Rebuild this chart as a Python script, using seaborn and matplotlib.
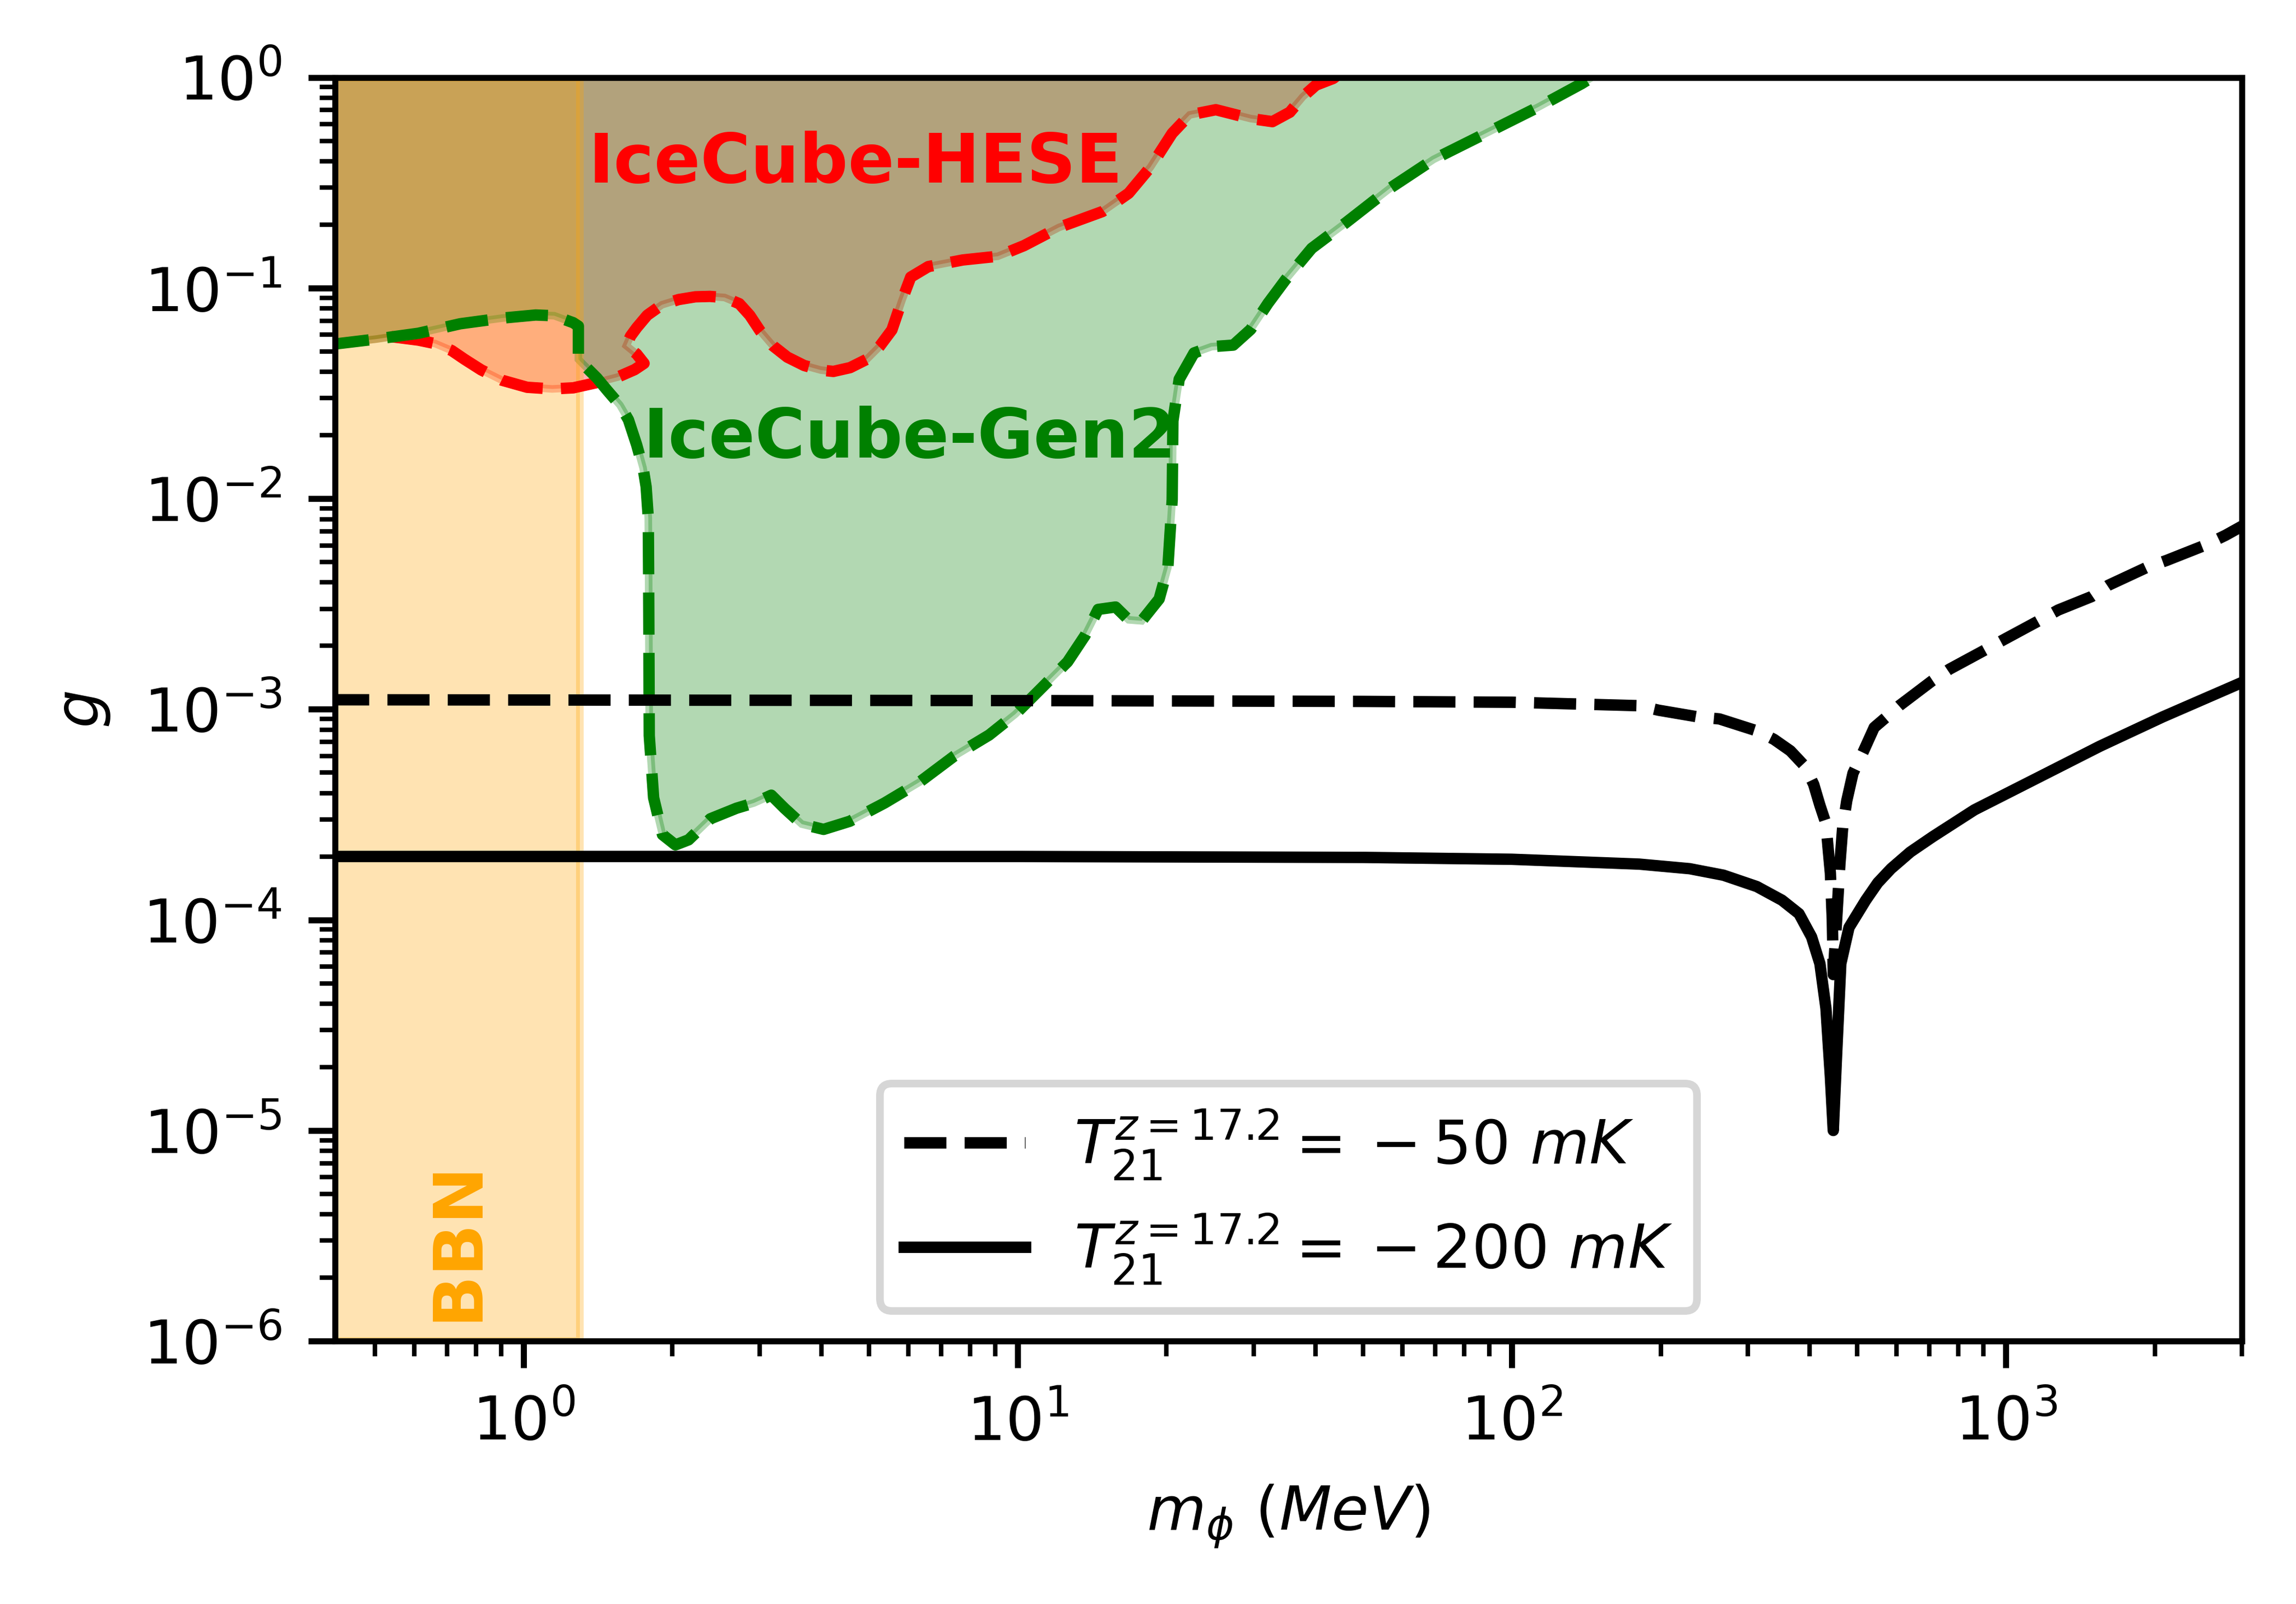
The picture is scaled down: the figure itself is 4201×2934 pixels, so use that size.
import matplotlib
matplotlib.use("Agg")
import matplotlib.pyplot as plt
import seaborn as sns

# 21-cm bound, T21 = -50 mK (dashed)
m_50mk = [0.4, 10, 50, 100, 181, 198, 238, 263, 313, 339, 366, 392, 408, 420,
          432, 436, 441, 445, 447, 454, 461, 467, 476, 490, 515, 541, 573, 608,
          710, 768, 898, 989, 1157, 1275, 1490, 1611, 1920, 2117, 2522, 2780, 3000]
g_50mk = [1.11e-3, 1.10e-3, 1.09e-3, 1.08e-3, 1.04e-3, 9.9e-4, 9.2e-4, 9.0e-4,
          7.9e-4, 7.2e-4, 6.35e-4, 5.35e-4, 4.4e-4, 3.5e-4, 2.87e-4, 2.24e-4,
          1.67e-4, 1.0e-4, 5.5e-5, 1.0e-4, 1.84e-4, 2.74e-4, 3.68e-4, 4.97e-4,
          6.35e-4, 8.2e-4, 9.2e-4, 1.04e-3, 1.37e-3, 1.55e-3, 1.89e-3, 2.14e-3,
          2.61e-3, 2.96e-3, 3.43e-3, 3.88e-3, 4.7e-3, 5.1e-3, 6.0e-3, 6.7e-3, 7.4e-3]

# 21-cm bound, T21 = -200 mK (solid)
m_200mk = [0.4, 10, 50, 100, 181, 229, 268, 313, 352, 381, 404, 420, 432, 441,
           447, 454, 463, 481, 520, 550, 585, 640, 710, 863, 1157, 1549, 2075, 3000]
g_200mk = [2.0e-4, 2.0e-4, 1.98e-4, 1.94e-4, 1.84e-4, 1.75e-4, 1.63e-4, 1.44e-4,
           1.24e-4, 1.07e-4, 8.3e-5, 6.2e-5, 3.8e-5, 1.8e-5, 1.0e-5, 2.3e-5,
           6.2e-5, 9.2e-5, 1.24e-4, 1.50e-4, 1.75e-4, 2.10e-4, 2.48e-4, 3.33e-4,
           4.72e-4, 6.68e-4, 9.2e-4, 1.34e-3]

# IceCube-HESE contour (red)
m_hese = [0.539, 0.612, 0.662, 0.715, 0.759, 0.820, 0.904, 1.016, 1.142, 1.26,
          1.40, 1.55, 1.677, 1.752, 1.693, 1.613, 1.645, 1.693, 1.778, 1.904,
          2.058, 2.225, 2.382, 2.550, 2.731, 2.867, 3.009, 3.191, 3.416, 3.694,
          3.993, 4.233, 4.576, 4.947, 5.246, 5.561, 5.83, 6.07, 6.59, 7.74,
          9.11, 10.29, 12.11, 14.84, 16.76, 18.55, 20.53, 22.27, 25.16, 29.59,
          32.75, 35.52, 37.76, 40.12, 43.5, 46.0]
g_hese = [0.0588, 0.0566, 0.0545, 0.0505, 0.0459, 0.0409, 0.0365, 0.0338, 0.0332,
          0.0336, 0.0355, 0.0378, 0.0410, 0.0439, 0.0486, 0.0533, 0.0591, 0.0648,
          0.0743, 0.0833, 0.0882, 0.0909, 0.0913, 0.0902, 0.0843, 0.0743, 0.0626,
          0.0533, 0.0470, 0.0429, 0.0408, 0.0402, 0.0419, 0.0459, 0.0527, 0.0633,
          0.0877, 0.1127, 0.1265, 0.136, 0.1416, 0.159, 0.194, 0.231, 0.282,
          0.375, 0.543, 0.664, 0.703, 0.638, 0.617, 0.684, 0.811, 0.92, 0.99, 1.1]

# IceCube-Gen2 contour (green)
m_gen2 = [0.40, 0.504, 0.612, 0.744, 0.904, 1.057, 1.153, 1.259, 1.29, 1.29,
          1.314, 1.407, 1.477, 1.566, 1.629, 1.693, 1.744, 1.769, 1.787, 1.79,
          1.795, 1.832, 1.909, 2.028, 2.156, 2.386, 2.695, 2.923, 3.170, 3.370,
          3.654, 4.045, 4.570, 5.375, 6.324, 7.438, 8.750, 9.883, 11.16, 12.61,
          13.68, 14.54, 15.77, 16.76, 17.81, 19.32, 20.12, 20.53, 20.6, 21.21,
          22.73, 24.66, 27.29, 29.59, 32.09, 34.81, 39.33, 46.27, 56.66, 69.42,
          88.6, 113.0, 138.5, 150.0]
g_gen2 = [0.0537, 0.0573, 0.0610, 0.0677, 0.0720, 0.0745, 0.0739, 0.0685, 0.066,
          0.0459, 0.0439, 0.0374, 0.0326, 0.0278, 0.0237, 0.0180, 0.0140, 0.0114,
          0.0081, 0.0042, 7.5e-4, 3.8e-4, 2.54e-4, 2.27e-4, 2.40e-4, 3.02e-4,
          3.39e-4, 3.59e-4, 3.91e-4, 3.39e-4, 2.85e-4, 2.69e-4, 2.94e-4, 3.59e-4,
          4.51e-4, 6.0e-4, 7.55e-4, 9.48e-4, 1.26e-3, 1.68e-3, 2.24e-3, 2.98e-3,
          3.06e-3, 2.66e-3, 2.63e-3, 3.34e-3, 4.71e-3, 9.9e-3, 0.0234, 0.0369,
          0.0492, 0.0527, 0.0536, 0.0636, 0.0847, 0.1095, 0.1544, 0.2056, 0.298,
          0.4085, 0.5435, 0.723, 0.936, 1.05]

bbn_range = (0.4, 1.3)
x_range = (0.415, 3000)
y_range = (1e-6, 1)
# "{}" keeps the old-style spacing around the minus sign
labels = [r"$T_{21}^{z=17.2} ={} -50\ mK$", r"$T_{21}^{z=17.2} ={} -200\ mK$"]


def closed_to_top(m, g, top=1.5):
    # close a contour through a point above the plot so the fill covers the top
    return list(m) + [m[-1], m[0]], list(g) + [top, top]


def draw_curve(ax, m, g, color, style):
    sns.lineplot(x=m, y=g, sort=False, estimator=None, color=color, ax=ax)
    line = ax.lines[-1]
    line.set_linewidth(1.5)
    line.set_linestyle(style)
    return line


plt.rcParams["font.size"] = 8
fig = plt.figure(figsize=(4.201, 2.934), dpi=1000)
ax = fig.add_axes([0.1459, 0.1639, 0.8305, 0.7878])
ax.set_xscale("log")
ax.set_yscale("log")

# shaded regions: HESE, Gen2, then BBN on top
hx, hy = closed_to_top(m_gen2[:2] + m_hese, g_gen2[:2] + g_hese)
ax.fill(hx, hy, color="red", alpha=0.3, lw=1, zorder=1)
gx, gy = closed_to_top(m_gen2, g_gen2)
ax.fill(gx, gy, color="green", alpha=0.3, lw=1, zorder=1)
ax.axvspan(bbn_range[0], bbn_range[1], color="orange", alpha=0.3, zorder=1)

# contour outlines
draw_curve(ax, m_hese, g_hese, "red", "--")
draw_curve(ax, m_gen2, g_gen2, "green", "--")

# 21-cm curves
line50 = draw_curve(ax, m_50mk, g_50mk, "k", "--")
line200 = draw_curve(ax, m_200mk, g_200mk, "k", "-")

ax.text(4.69, 0.316, "IceCube-HESE", color="red", fontsize=9,
        fontweight="bold", ha="center", va="baseline")
ax.text(6.04, 0.0157, "IceCube-Gen2", color="green", fontsize=9,
        fontweight="bold", ha="center", va="baseline")
ax.text(0.737, 3.0e-6, "BBN", color="orange", fontsize=9, fontweight="bold",
        rotation=90, ha="center", va="center")

ax.set_xlim(*x_range)
ax.set_ylim(*y_range)
ax.set_xlabel(r"$m_{\phi}\ (MeV)$")
ax.set_ylabel(r"$g$")
ax.legend([line50, line200], labels, loc="lower center")

fig.savefig("out.png", dpi=1000)
